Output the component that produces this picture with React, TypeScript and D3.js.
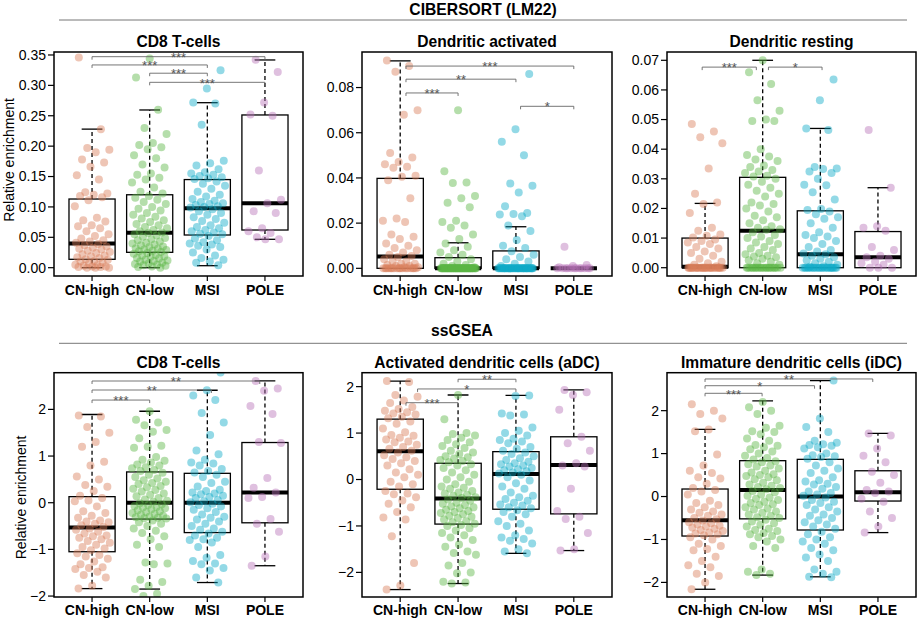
import React from "react";
import * as d3 from "d3";

const groups = ["CN-high", "CN-low", "MSI", "POLE"];
const groupColors = ["#DA7E5A", "#5BB545", "#10AAC8", "#B973B9"];

// ---------- CIBERSORT: CD8 T-cells ----------
const cibCD8High = [0.346,0.228,0.197,0.194,0.19,0.178,0.173,0.166,0.152,0.145,0.124,0.122,0.12,0.118,0.116,0.111,0.101,0.082,0.078,0.076,0.07,0.068,0.065,0.06,0.055,0.052,0.048,0.045,0.043,0.041,0.039,0.037,0.035,0.033,0.031,0.03,0.028,0.026,0.024,0.022,0.02,0.019,0.017,0.016,0.014,0.013,0.011,0.01,0.008,0.007,0.005,0.004,0.003,0.002,0.002,0.001,0.001,0,0,0];
const cibCD8Low = [0.344,0.313,0.26,0.23,0.22,0.205,0.202,0.198,0.195,0.185,0.18,0.17,0.165,0.155,0.153,0.148,0.145,0.14,0.132,0.125,0.122,0.118,0.115,0.112,0.108,0.105,0.1,0.097,0.094,0.09,0.087,0.084,0.081,0.078,0.075,0.072,0.07,0.067,0.065,0.062,0.06,0.058,0.057,0.055,0.053,0.051,0.049,0.047,0.045,0.043,0.041,0.04,0.038,0.037,0.035,0.034,0.032,0.031,0.03,0.029,0.028,0.027,0.026,0.024,0.023,0.021,0.02,0.019,0.018,0.016,0.015,0.013,0.012,0.011,0.01,0.008,0.007,0.006,0.005,0.004,0.003,0.002,0.001,0];
const cibCD8MSI = [0.325,0.295,0.272,0.27,0.235,0.176,0.172,0.168,0.162,0.157,0.155,0.153,0.151,0.149,0.147,0.146,0.142,0.138,0.135,0.13,0.125,0.12,0.117,0.113,0.11,0.108,0.106,0.105,0.103,0.101,0.1,0.099,0.096,0.093,0.09,0.087,0.083,0.08,0.077,0.074,0.07,0.067,0.065,0.062,0.06,0.058,0.056,0.055,0.052,0.048,0.045,0.042,0.04,0.038,0.036,0.034,0.03,0.025,0.02,0.016,0.013,0.01,0.008,0.004];
const cibCD8POLE = [0.342,0.322,0.272,0.252,0.25,0.16,0.112,0.106,0.093,0.09,0.065,0.06,0.057,0.05,0.047,0.047];
const cibCD8Stats = [[0,0.0138,0.04,0.113,0.228],[0,0.0253,0.0576,0.12,0.2595],[0.0033,0.0538,0.0977,0.145,0.2715],[0.0467,0.062,0.106,0.2513,0.3418]];

// ---------- CIBERSORT: Dendritic activated ----------
const cibDAHigh = [0.092,0.0895,0.087,0.07,0.068,0.051,0.049,0.047,0.046,0.045,0.0445,0.041,0.0405,0.039,0.031,0.022,0.021,0.0205,0.015,0.014,0.013,0.011,0.01,0.009,0.008,0.007,0.006,0.0055,0.005,0.004,0.003,0.003,0.002,0.002,0.0015,0.001,0.001,0.0005,0.0005,0,0,0,0,0,0,0,0,0,0,0,0,0,0,0,0,0];
const cibDALow = [0.07,0.043,0.038,0.0378,0.032,0.031,0.029,0.027,0.021,0.0205,0.019,0.018,0.015,0.013,0.011,0.0095,0.008,0.007,0.006,0.005,0.004,0.003,0.002,0.0015,0.001,0.0005,0,0,0,0,0,0,0,0,0,0,0,0,0,0,0,0,0,0,0,0,0,0,0,0,0,0,0,0,0,0,0,0,0,0,0,0,0,0,0,0,0,0,0,0,0,0,0,0,0,0,0,0,0,0];
const cibDAMSI = [0.086,0.0615,0.056,0.05,0.0375,0.0365,0.0335,0.0275,0.0245,0.024,0.0238,0.023,0.019,0.0165,0.0125,0.01,0.009,0.0075,0.006,0.005,0.004,0.003,0.002,0.001,0,0,0,0,0,0,0,0,0,0,0,0,0,0,0,0,0,0,0,0,0,0,0,0,0,0,0,0,0,0,0,0,0,0,0,0,0,0,0,0];
const cibDAPOLE = [0.0095,0.0015,0.001,0.0005,0,0,0,0,0,0,0,0,0,0,0,0];
const cibDAStats = [[0,0,0.0052,0.0398,0.0918],[0,0,0,0.0047,0.0113],[0,0,0,0.0077,0.0184],[0,0,0,0,0]];

// ---------- CIBERSORT: Dendritic resting ----------
const cibDRHigh = [0.0485,0.046,0.044,0.042,0.0335,0.025,0.022,0.0215,0.0185,0.0135,0.0125,0.0112,0.0108,0.0102,0.0095,0.009,0.0085,0.008,0.007,0.0065,0.0055,0.005,0.004,0.003,0.002,0.0015,0.001,0.0005,0,0,0,0,0,0,0,0,0,0,0,0,0,0,0,0,0,0,0,0,0,0,0,0,0,0,0,0];
const cibDRLow = [0.07,0.066,0.062,0.0565,0.053,0.05,0.0495,0.0495,0.04,0.038,0.0375,0.0365,0.036,0.0345,0.034,0.033,0.0325,0.032,0.031,0.0308,0.03,0.029,0.028,0.027,0.026,0.025,0.024,0.022,0.0215,0.021,0.02,0.019,0.0175,0.017,0.016,0.015,0.014,0.0135,0.013,0.0128,0.012,0.011,0.0105,0.01,0.009,0.0085,0.008,0.007,0.0065,0.006,0.005,0.0045,0.004,0.0038,0.0035,0.003,0.0025,0.002,0.0015,0.001,0,0,0,0,0,0,0,0,0,0,0,0,0,0,0,0,0,0,0,0];
const cibDRMSI = [0.0635,0.0565,0.047,0.0465,0.034,0.0335,0.0333,0.0325,0.032,0.03,0.028,0.0278,0.0255,0.023,0.0198,0.0195,0.019,0.018,0.017,0.0165,0.015,0.0135,0.012,0.011,0.0105,0.01,0.009,0.008,0.007,0.006,0.0055,0.0048,0.0045,0.004,0.0035,0.003,0.0025,0.002,0.0015,0.001,0.0005,0.0003,0,0,0,0,0,0,0,0,0,0,0,0,0,0,0,0,0,0,0,0,0,0];
const cibDRPOLE = [0.0465,0.027,0.014,0.0135,0.0125,0.007,0.006,0.004,0.0035,0.003,0.002,0.0015,0.001,0,0,0];
const cibDRStats = [[0,0,0.0003,0.01,0.0217],[0,0,0.0125,0.0305,0.07],[0,0,0.0045,0.0192,0.047],[0,0,0.0035,0.0122,0.027]];

// ---------- ssGSEA: CD8 T-cells ----------
const ssCD8High = [1.87,1.85,1.62,1.5,1.3,1.2,0.88,0.8,0.56,0.5,0.38,0.34,0.25,0.15,0.1,0.05,0.03,-0.08,-0.18,-0.22,-0.28,-0.32,-0.38,-0.4,-0.42,-0.45,-0.48,-0.52,-0.55,-0.58,-0.62,-0.66,-0.7,-0.72,-0.75,-0.78,-0.82,-0.86,-0.9,-0.95,-0.98,-1.02,-1.08,-1.12,-1.15,-1.2,-1.26,-1.32,-1.38,-1.4,-1.42,-1.48,-1.55,-1.6,-1.78,-1.84];
const ssCD8Low = [1.96,1.78,1.72,1.66,1.56,1.52,1.38,1.22,1.2,1.18,0.98,0.92,0.9,0.86,0.82,0.8,0.76,0.74,0.7,0.68,0.64,0.6,0.55,0.52,0.48,0.45,0.42,0.4,0.36,0.33,0.3,0.27,0.24,0.2,0.17,0.14,0.1,0.07,0.04,0.02,-0.01,-0.03,-0.05,-0.07,-0.09,-0.1,-0.12,-0.14,-0.16,-0.18,-0.2,-0.22,-0.24,-0.26,-0.28,-0.3,-0.31,-0.32,-0.33,-0.34,-0.38,-0.42,-0.45,-0.5,-0.55,-0.6,-0.65,-0.72,-0.78,-0.9,-0.95,-1.28,-1.3,-1.32,-1.65,-1.7,-1.78,-1.85,-1.95,-2.0];
const ssCD8MSI = [2.79,2.41,2.3,2.2,1.92,1.72,1.45,1.12,1.04,0.92,0.86,0.84,0.8,0.72,0.68,0.65,0.6,0.55,0.45,0.42,0.35,0.28,0.25,0.22,0.2,0.18,0.15,0.12,0.1,0.06,0.03,0.01,-0.02,-0.05,-0.08,-0.12,-0.15,-0.2,-0.25,-0.3,-0.32,-0.36,-0.4,-0.45,-0.5,-0.55,-0.58,-0.62,-0.66,-0.7,-0.75,-0.78,-0.8,-0.85,-0.95,-1.12,-1.18,-1.25,-1.3,-1.32,-1.4,-1.45,-1.6,-1.71];
const ssCD8POLE = [2.61,2.45,2.4,2.07,1.9,1.3,1.28,0.53,0.32,0.22,0.12,0.1,-0.35,-0.45,-0.62,-1.15,-1.35];
const ssCD8Stats = [[-1.84,-1.05,-0.53,0.13,1.89],[-1.85,-0.35,0,0.66,1.96],[-1.71,-0.64,0,0.63,2.41],[-1.35,-0.43,0.22,1.29,2.61]];

// ---------- ssGSEA: aDC ----------
const ssADCHigh = [2.12,2.1,1.82,1.78,1.7,1.65,1.56,1.52,1.48,1.45,1.42,1.4,1.35,1.32,1.25,1.2,1.1,1.02,0.96,0.94,0.9,0.86,0.82,0.8,0.75,0.7,0.66,0.62,0.58,0.52,0.48,0.44,0.4,0.35,0.3,0.22,0.15,0.1,0.05,-0.05,-0.1,-0.15,-0.25,-0.3,-0.32,-0.38,-0.45,-0.52,-0.6,-0.7,-0.82,-0.86,-1.22,-1.8,-2.28,-2.37];
const ssADCLow = [1.82,1.3,1.0,0.98,0.95,0.9,0.85,0.8,0.76,0.72,0.68,0.62,0.58,0.55,0.5,0.48,0.45,0.42,0.4,0.37,0.33,0.3,0.25,0.2,0.15,0.1,0.05,0.0,-0.05,-0.1,-0.15,-0.18,-0.2,-0.25,-0.28,-0.3,-0.33,-0.35,-0.38,-0.4,-0.43,-0.46,-0.5,-0.52,-0.55,-0.58,-0.6,-0.62,-0.65,-0.68,-0.7,-0.72,-0.75,-0.78,-0.8,-0.83,-0.86,-0.9,-0.92,-0.95,-0.98,-1.0,-1.05,-1.1,-1.15,-1.2,-1.25,-1.3,-1.4,-1.45,-1.55,-1.58,-1.62,-1.8,-1.85,-2.0,-2.02,-2.2,-2.22,-2.24];
const ssADCMSI = [1.81,1.8,1.42,1.4,1.38,1.12,1.05,1.0,0.95,0.88,0.85,0.82,0.78,0.7,0.66,0.62,0.58,0.55,0.5,0.46,0.42,0.38,0.35,0.33,0.3,0.28,0.25,0.22,0.2,0.18,0.15,0.13,0.1,0.05,-0.02,-0.08,-0.15,-0.2,-0.28,-0.35,-0.38,-0.42,-0.46,-0.5,-0.54,-0.56,-0.6,-0.62,-0.66,-0.7,-0.75,-0.8,-0.9,-0.95,-1.0,-1.1,-1.2,-1.25,-1.28,-1.32,-1.38,-1.5,-1.55,-1.59];
const ssADCPOLE = [1.93,1.88,1.82,1.5,0.92,0.78,0.62,0.35,0.3,0.28,-0.2,-0.68,-0.8,-0.85,-1.15,-1.5,-1.53];
const ssADCStats = [[-2.37,-0.21,0.61,1.3,2.12],[-2.24,-0.96,-0.41,0.35,1.82],[-1.59,-0.64,0.12,0.6,1.81],[-1.53,-0.74,0.31,0.92,1.93]];

// ---------- ssGSEA: iDC ----------
const ssIDCHigh = [2.15,2.0,1.92,1.82,1.56,1.52,0.98,0.72,0.6,0.55,0.45,0.42,0.3,0.2,0.15,0.12,0.05,-0.1,-0.15,-0.2,-0.25,-0.3,-0.35,-0.38,-0.42,-0.45,-0.5,-0.53,-0.56,-0.6,-0.62,-0.65,-0.68,-0.7,-0.72,-0.75,-0.78,-0.8,-0.84,-0.86,-0.88,-0.9,-0.95,-1.0,-1.1,-1.15,-1.22,-1.25,-1.4,-1.5,-1.6,-1.65,-1.8,-1.85,-2.0,-2.16];
const ssIDCLow = [2.2,2.08,2.0,1.92,1.65,1.6,1.52,1.5,1.45,1.35,1.3,1.2,1.18,1.15,1.1,1.05,1.0,0.95,0.9,0.86,0.82,0.8,0.75,0.72,0.7,0.65,0.6,0.56,0.52,0.5,0.48,0.45,0.4,0.38,0.32,0.28,0.25,0.22,0.2,0.17,0.13,0.1,0.05,0.02,-0.02,-0.05,-0.08,-0.12,-0.15,-0.18,-0.2,-0.25,-0.28,-0.3,-0.35,-0.38,-0.42,-0.45,-0.48,-0.5,-0.54,-0.58,-0.62,-0.66,-0.7,-0.75,-0.78,-0.8,-0.85,-0.88,-0.92,-0.95,-1.0,-1.05,-1.15,-1.2,-1.7,-1.75,-1.8,-1.83];
const ssIDCMSI = [2.7,1.82,1.62,1.5,1.3,1.25,1.22,1.2,1.18,1.15,1.12,1.0,0.96,0.94,0.92,0.88,0.8,0.72,0.65,0.6,0.55,0.45,0.38,0.35,0.3,0.28,0.22,0.18,0.12,0.08,0.05,0.02,-0.02,-0.08,-0.12,-0.15,-0.2,-0.25,-0.3,-0.35,-0.42,-0.45,-0.5,-0.55,-0.6,-0.65,-0.7,-0.75,-0.82,-0.88,-0.95,-1.0,-1.05,-1.1,-1.2,-1.25,-1.35,-1.42,-1.5,-1.7,-1.75,-1.8,-1.87,-1.88];
const ssIDCPOLE = [1.47,1.42,1.12,0.95,0.8,0.58,0.5,0.32,0.15,0.12,0.08,-0.05,-0.12,-0.35,-0.5,-0.7,-0.84];
const ssIDCStats = [[-2.16,-0.92,-0.55,0.175,1.565],[-1.83,-0.52,0.15,0.835,2.23],[-1.87,-0.78,0,0.866,2.7],[-0.84,-0.105,0.1,0.6,1.47]];

// significance brackets: [from group pos, to group pos, y value, label]
const cibCD8Sig: [number, number, number, string][] = [[1, 4, 0.3472, "***"], [1, 3, 0.3336, "***"], [2, 3, 0.32, "***"], [2, 4, 0.305, "***"]];
const cibDASig: [number, number, number, string][] = [[1.1, 4, 0.0895, "***"], [1.1, 3, 0.0837, "**"], [1.1, 2, 0.0776, "***"], [3.08, 4, 0.0717, "*"]];
const cibDRSig: [number, number, number, string][] = [[0.95, 1.89, 0.0677, "***"], [2.1, 3.03, 0.0677, "*"]];
const ssCD8Sig: [number, number, number, string][] = [[1, 3.91, 2.608, "**"], [1, 3.07, 2.415, "**"], [1, 2, 2.2, "***"]];
const ssADCSig: [number, number, number, string][] = [[2, 3, 2.159, "**"], [1.3, 3, 1.95, "*"], [1.1, 2, 1.654, "***"]];
const ssIDCSig: [number, number, number, string][] = [[1, 3.91, 2.738, "**"], [1, 2.9, 2.581, "*"], [1, 1.99, 2.404, "***"]];

const cibTicks = [[0, 0.05, 0.1, 0.15, 0.2, 0.25, 0.3, 0.35], [0, 0.02, 0.04, 0.06, 0.08], [0, 0.01, 0.02, 0.03, 0.04, 0.05, 0.06, 0.07]];
const ssTicks = [-2, -1, 0, 1, 2];

const titlesTop = ["CD8 T-cells", "Dendritic activated", "Dendritic resting"];
const titlesBottom = ["CD8 T-cells", "Activated dendritic cells (aDC)", "Immature dendritic cells (iDC)"];
const sectionTitles = ["CIBERSORT (LM22)", "ssGSEA"];

// layout
const colLeft = [54, 362, 667];
const colRight = [303, 612, 916];
const rowTop = [52, 372.7];
const rowBottom = [276, 597];
const FONT = "'Liberation Sans', Arial, Helvetica, sans-serif";

type PanelDef = {
  id: string; row: number; col: number; title: string;
  yDomain: [number, number]; ticks: number[]; fmt: (v: number) => string;
  stats: number[][]; points: number[][]; sig: [number, number, number, string][];
};

const fmt2 = d3.format(".2f");
const fmtInt = (v: number) => (v < 0 ? "\u2212" + Math.abs(v) : String(v));

const panels: PanelDef[] = [
  { id: "p1", row: 0, col: 0, title: titlesTop[0], yDomain: [-0.01366, 0.3549], ticks: cibTicks[0], fmt: fmt2, stats: cibCD8Stats, points: [cibCD8High, cibCD8Low, cibCD8MSI, cibCD8POLE], sig: cibCD8Sig },
  { id: "p2", row: 0, col: 1, title: titlesTop[1], yDomain: [-0.0034, 0.09573], ticks: cibTicks[1], fmt: fmt2, stats: cibDAStats, points: [cibDAHigh, cibDALow, cibDAMSI, cibDAPOLE], sig: cibDASig },
  { id: "p3", row: 0, col: 2, title: titlesTop[2], yDomain: [-0.0028, 0.0728], ticks: cibTicks[2], fmt: fmt2, stats: cibDRStats, points: [cibDRHigh, cibDRLow, cibDRMSI, cibDRPOLE], sig: cibDRSig },
  { id: "p4", row: 1, col: 0, title: titlesBottom[0], yDomain: [-2.02, 2.786], ticks: ssTicks, fmt: fmtInt, stats: ssCD8Stats, points: [ssCD8High, ssCD8Low, ssCD8MSI, ssCD8POLE], sig: ssCD8Sig },
  { id: "p5", row: 1, col: 1, title: titlesBottom[1], yDomain: [-2.53, 2.3], ticks: ssTicks, fmt: fmtInt, stats: ssADCStats, points: [ssADCHigh, ssADCLow, ssADCMSI, ssADCPOLE], sig: ssADCSig },
  { id: "p6", row: 1, col: 2, title: titlesBottom[2], yDomain: [-2.34, 2.884], ticks: ssTicks, fmt: fmtInt, stats: ssIDCStats, points: [ssIDCHigh, ssIDCLow, ssIDCMSI, ssIDCPOLE], sig: ssIDCSig },
];

// deterministic horizontal spread (golden-ratio sequence)
const spread = (i: number, g: number) => (((i * 0.6180339887 + g * 0.37 + 0.13) % 1) - 0.5) * 0.62;

function Panel({ p }: { p: PanelDef }) {
  const left = colLeft[p.col], right = colRight[p.col];
  const top = rowTop[p.row], bottom = rowBottom[p.row];
  const x = d3.scaleLinear().domain([0.34, 4.66]).range([left, right]);
  const y = d3.scaleLinear().domain(p.yDomain).range([bottom, top]);
  const halfBox = x(1.4) - x(1);
  const halfCap = x(1.18) - x(1);
  const cx = (left + right) / 2;
  return (
    <g>
      <defs>
        <clipPath id={"clip-" + p.id}>
          <rect x={left} y={top} width={right - left} height={bottom - top} />
        </clipPath>
      </defs>
      <text x={cx} y={p.row === 0 ? 46.7 : 368.3} textAnchor="middle" fontFamily={FONT} fontWeight="bold" fontSize={15.6}>{p.title}</text>
      {/* y axis */}
      {p.ticks.map((t) => (
        <g key={t}>
          <line x1={left - 6} x2={left} y1={y(t)} y2={y(t)} stroke="#000" strokeWidth={1.2} />
          <text x={left - 8} y={y(t)} dy="0.35em" textAnchor="end" fontFamily={FONT} fontSize={14}>{p.fmt(t)}</text>
        </g>
      ))}
      {/* x axis */}
      {groups.map((g, i) => (
        <g key={g}>
          <line x1={x(i + 1)} x2={x(i + 1)} y1={bottom} y2={bottom + 5} stroke="#000" strokeWidth={1.2} />
          <text x={x(i + 1)} y={p.row === 0 ? 295 : 615} textAnchor="middle" fontFamily={FONT} fontWeight="bold" fontSize={14}>{g}</text>
        </g>
      ))}
      <g clipPath={`url(#clip-${p.id})`}>
        {/* boxes */}
        {p.stats.map((s, i) => {
          const c = x(i + 1);
          const [mn, q1, md, q3, mx] = s;
          return (
            <g key={i}>
              <line x1={c} x2={c} y1={y(q3)} y2={y(mx)} stroke="#000" strokeWidth={1.3} strokeDasharray="4,3" />
              <line x1={c} x2={c} y1={y(q1)} y2={y(mn)} stroke="#000" strokeWidth={1.3} strokeDasharray="4,3" />
              {mx > q3 && <line x1={c - halfCap} x2={c + halfCap} y1={y(mx)} y2={y(mx)} stroke="#000" strokeWidth={1.3} />}
              {mn < q1 && <line x1={c - halfCap} x2={c + halfCap} y1={y(mn)} y2={y(mn)} stroke="#000" strokeWidth={1.3} />}
              <rect x={c - halfBox} y={y(q3)} width={2 * halfBox} height={Math.max(0, y(q1) - y(q3))} fill="none" stroke="#000" strokeWidth={1.3} />
              <line x1={c - halfBox} x2={c + halfBox} y1={y(md)} y2={y(md)} stroke="#000" strokeWidth={4} />
            </g>
          );
        })}
        {/* points */}
        {p.points.map((arr, gi) =>
          arr.map((v, i) => (
            <circle key={gi + "-" + i} cx={x(gi + 1 + spread(i, gi))} cy={y(v)} r={4} fill={groupColors[gi]} fillOpacity={0.45} />
          ))
        )}
        {/* significance brackets */}
        {p.sig.map(([a, b, v, lab], k) => {
          const yy = y(v);
          return (
            <g key={k}>
              <path d={`M${x(a)},${yy + 3}V${yy}H${x(b)}V${yy + 3}`} fill="none" stroke="#666" strokeWidth={0.9} />
              <text x={(x(a) + x(b)) / 2} y={yy + 5.2} textAnchor="middle" fontFamily={FONT} fontSize={13} fill="#555">{lab}</text>
            </g>
          );
        })}
      </g>
      <rect x={left} y={top} width={right - left} height={bottom - top} fill="none" stroke="#000" strokeWidth={1.5} />
    </g>
  );
}

export default function App() {
  return (
    <svg width={919} height={621} style={{ position: "absolute", left: 0, top: 0, background: "#fff" }}>
      <rect width={919} height={621} fill="#fff" />
      <text x={483} y={15} textAnchor="middle" fontFamily={FONT} fontWeight="bold" fontSize={15.7}>{sectionTitles[0]}</text>
      <line x1={59} x2={907} y1={20} y2={20} stroke="#777" strokeWidth={1} />
      <text x={462} y={336} textAnchor="middle" fontFamily={FONT} fontWeight="bold" fontSize={15.7}>{sectionTitles[1]}</text>
      <line x1={59} x2={907} y1={343.3} y2={343.3} stroke="#777" strokeWidth={1} />
      <text transform="translate(14,160) rotate(-90)" textAnchor="middle" fontFamily={FONT} fontSize={14}>Relative enrichment</text>
      <text transform="translate(26,497.5) rotate(-90)" textAnchor="middle" fontFamily={FONT} fontSize={14}>Relative enrichment</text>
      {panels.map((p) => (
        <Panel key={p.id} p={p} />
      ))}
    </svg>
  );
}
